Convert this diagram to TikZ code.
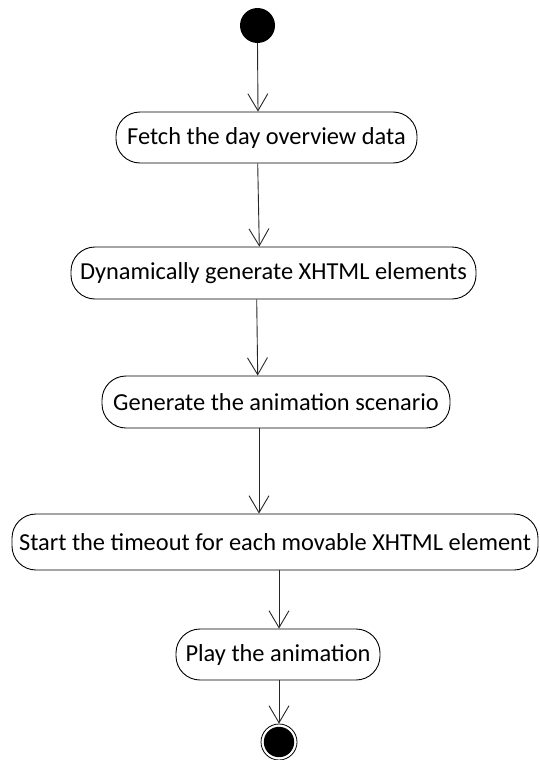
\documentclass[tikz,border=0pt]{standalone}
\usepackage{fontspec}
\setmainfont{Carlito}
\usetikzlibrary{arrows.meta}

\tikzset{
  action/.style={draw=black, line width=0.9pt, rounded corners=24pt,
    inner sep=0pt, align=center, font=\fontsize{24.4}{28}\selectfont},
  flow/.style={draw=black!85, line width=0.9pt,
    -{Straight Barb[length=17pt,width=20pt]}},
  initial/.style={circle, fill=black, inner sep=0pt, minimum size=35pt},
  final/.style={circle, draw=black, fill=white, line width=0.8pt,
    inner sep=0pt, minimum size=36pt},
}

\begin{document}
\begin{tikzpicture}[x=1pt,y=-1pt]
  \useasboundingbox (0,0) rectangle (539,760);

  % start and end states
  \node[initial] (start) at (257.5,25.5) {};
  \node[final] (end) at (279,742) {};
  \fill[black] (end.center) circle (15.2pt);

  % activities
  \node[action, minimum width=301pt, minimum height=51pt] (n1) at (266.5,137.5)
    {Fetch the day overview data};
  \node[action, minimum width=405pt, minimum height=52pt] (n2) at (273.5,273)
    {Dynamically generate XHTML elements};
  \node[action, minimum width=348pt, minimum height=52pt] (n3) at (276,402)
    {Generate the animation scenario};
  \node[action, minimum width=526pt, minimum height=56pt] (n4) at (275,542)
    {Start the timeout for each movable XHTML element};
  \node[action, minimum width=204pt, minimum height=51pt] (n5) at (278,654.5)
    {Play the animation};

  % control flow
  \draw[flow] (start.south) -- ([xshift=-8.5pt]n1.north);
  \draw[flow] ([xshift=-8.8pt]n1.south) -- ([xshift=-14.2pt]n2.north);
  \draw[flow] ([xshift=-16.8pt]n2.south) -- ([xshift=-18.3pt]n3.north);
  \draw[flow] ([xshift=-17pt]n3.south) -- ([xshift=-16pt]n4.north);
  \draw[flow] ([xshift=4pt]n4.south) -- ([xshift=1pt]n5.north);
  \draw[flow] ([xshift=1pt]n5.south) -- (end.north);
\end{tikzpicture}
\end{document}
